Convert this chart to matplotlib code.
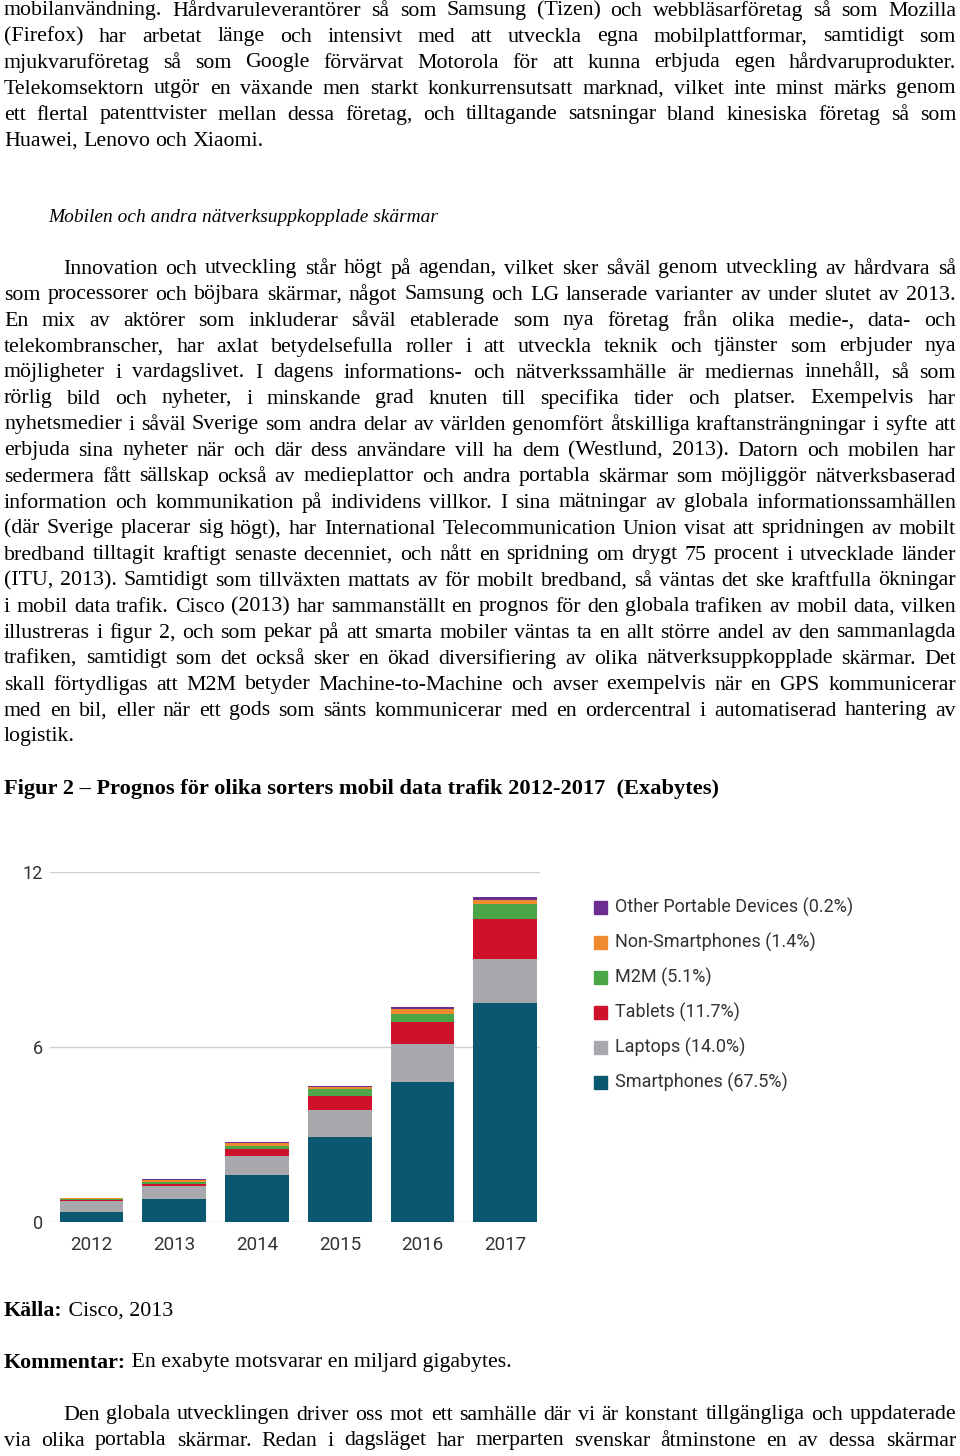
import matplotlib
matplotlib.use("Agg")
import matplotlib.pyplot as plt
import numpy as np
from matplotlib.patches import Rectangle

# ── Chart data (Exabytes) ─────────────────────────────────────────────────────
YEARS = ["2012", "2013", "2014", "2015", "2016", "2017"]
SERIES = ["Smartphones (67.5%)", "Laptops (14.0%)", "Tablets (11.7%)",
          "M2M (5.1%)", "Non-Smartphones (1.4%)", "Other Portable Devices (0.2%)"]
SMARTPHONES = [0.36, 0.80, 1.62, 2.91, 4.79, 7.51]
LAPTOPS = [0.37, 0.42, 0.66, 0.92, 1.30, 1.50]
TABLETS = [0.03, 0.08, 0.22, 0.49, 0.78, 1.37]
M2M = [0.02, 0.07, 0.11, 0.24, 0.26, 0.51]
NON_SMART = [0.04, 0.08, 0.09, 0.06, 0.17, 0.14]
OTHER = [0.02, 0.02, 0.06, 0.03, 0.08, 0.10]
COLORS = ["#0a5770", "#a7a9ac", "#d0112b", "#4ba648", "#f08a2e", "#6b2d8f"]
Y_TICKS = [0, 6, 12]

# ── Page text ──────────────────────────────────────────────────────────────────
PARA1 = [
    "mobilanvändning. Hårdvaruleverantörer så som Samsung (Tizen) och webbläsarföretag så som Mozilla",
    "(Firefox) har arbetat länge och intensivt med att utveckla egna mobilplattformar, samtidigt som",
    "mjukvaruföretag så som Google förvärvat Motorola för att kunna erbjuda egen hårdvaruprodukter.",
    "Telekomsektorn utgör en växande men starkt konkurrensutsatt marknad, vilket inte minst märks genom",
    "ett flertal patenttvister mellan dessa företag, och tilltagande satsningar bland kinesiska företag så som",
    "Huawei, Lenovo och Xiaomi.",
]
HEADING = "Mobilen och andra nätverksuppkopplade skärmar"
PARA2 = [
    "Innovation och utveckling står högt på agendan, vilket sker såväl genom utveckling av hårdvara så",
    "som processorer och böjbara skärmar, något Samsung och LG lanserade varianter av under slutet av 2013.",
    "En mix av aktörer som inkluderar såväl etablerade som nya företag från olika medie-, data- och",
    "telekombranscher, har axlat betydelsefulla roller i att utveckla teknik och tjänster som erbjuder nya",
    "möjligheter i vardagslivet. I dagens informations- och nätverkssamhälle är mediernas innehåll, så som",
    "rörlig bild och nyheter, i minskande grad knuten till specifika tider och platser. Exempelvis har",
    "nyhetsmedier i såväl Sverige som andra delar av världen genomfört åtskilliga kraftansträngningar i syfte att",
    "erbjuda sina nyheter när och där dess användare vill ha dem (Westlund, 2013). Datorn och mobilen har",
    "sedermera fått sällskap också av medieplattor och andra portabla skärmar som möjliggör nätverksbaserad",
    "information och kommunikation på individens villkor. I sina mätningar av globala informationssamhällen",
    "(där Sverige placerar sig högt), har International Telecommunication Union visat att spridningen av mobilt",
    "bredband tilltagit kraftigt senaste decenniet, och nått en spridning om drygt 75 procent i utvecklade länder",
    "(ITU, 2013). Samtidigt som tillväxten mattats av för mobilt bredband, så väntas det ske kraftfulla ökningar",
    "i mobil data trafik. Cisco (2013) har sammanställt en prognos för den globala trafiken av mobil data, vilken",
    "illustreras i figur 2, och som pekar på att smarta mobiler väntas ta en allt större andel av den sammanlagda",
    "trafiken, samtidigt som det också sker en ökad diversifiering av olika nätverksuppkopplade skärmar. Det",
    "skall förtydligas att M2M betyder Machine-to-Machine och avser exempelvis när en GPS kommunicerar",
    "med en bil, eller när ett gods som sänts kommunicerar med en ordercentral i automatiserad hantering av",
    "logistik.",
]
FIG_TITLE = "Figur 2 – Prognos för olika sorters mobil data trafik 2012-2017  (Exabytes)"
SOURCE = ("Källa:", " Cisco, 2013")
COMMENT = ("Kommentar:", " En exabyte motsvarar en miljard gigabytes.")
PARA3 = [
    "Den globala utvecklingen driver oss mot ett samhälle där vi är konstant tillgängliga och uppdaterade",
    "via olika portabla skärmar. Redan i dagsläget har merparten svenskar åtminstone en av dessa skärmar",
]

SERIF = "Liberation Serif"
SANS = "Roboto"
CHART_TXT = "#333333"

# ── Figure + page overlay in pixel units ───────────────────────────────────────
W, H = 960, 1456
fig = plt.figure(figsize=(W / 100, H / 100), dpi=100)
page = fig.add_axes([0, 0, 1, 1])
page.set_xlim(0, W)
page.set_ylim(H, 0)
page.axis("off")
renderer = fig.canvas.get_renderer()


def text_width(s, size, **kw):
    t = page.text(0, 0, s, fontsize=size, family=SERIF, **kw)
    w = t.get_window_extent(renderer).width
    t.remove()
    return w


def put_line(line, x0, x1, y, size, justify=True, **kw):
    words = line.split(" ")
    texts = [page.text(0, y, w, fontsize=size, family=SERIF, va="center",
                       ha="left", color="black", **kw) for w in words]
    widths = [t.get_window_extent(renderer).width for t in texts]
    if justify and len(words) > 1:
        gap = (x1 - x0 - sum(widths)) / (len(words) - 1)
    else:
        gap = text_width("x x", size, **kw) - text_width("xx", size, **kw)
    x = x0
    for t, w in zip(texts, widths):
        t.set_x(x)
        x += w + gap


def put_paragraph(lines, y0, size, indent=0, last_justified=False, step=26):
    for i, line in enumerate(lines):
        x0 = 4 + (indent if i == 0 else 0)
        last = i == len(lines) - 1
        put_line(line, x0, 956, y0 + i * step, size,
                 justify=(not last) or last_justified)


# body size: biggest size that lets the tightest justified line fit
base = 14
ratios = []
for lines, indent in [(PARA1[:-1], 0), (PARA2[:-1], 59), (PARA3, 59)]:
    for i, line in enumerate(lines):
        avail = 952 - (indent if i == 0 else 0)
        ratios.append(text_width(line, base) / avail)
BODY = base / max(ratios) * 0.995

put_paragraph(PARA1, 11, BODY)
page.text(48, 217, HEADING, fontsize=BODY * 388 / text_width(HEADING, BODY, style="italic"),
          family=SERIF, style="italic", va="center", ha="left")
put_paragraph(PARA2, 269, BODY, indent=59)
page.text(4, 789, FIG_TITLE, fontsize=BODY * 714 / text_width(FIG_TITLE, BODY, weight="bold"),
          family=SERIF, weight="bold", va="center", ha="left")

for (bold, rest), y in [(SOURCE, 1311), (COMMENT, 1363)]:
    page.text(4, y, bold, fontsize=BODY, family=SERIF, weight="bold", va="center", ha="left")
    bw = text_width(bold, BODY, weight="bold")
    page.text(4 + bw, y, rest, fontsize=BODY, family=SERIF, va="center", ha="left")

put_paragraph(PARA3, 1415, BODY, indent=59, last_justified=True)

# ── Stacked bar chart ──────────────────────────────────────────────────────────
ax = fig.add_axes([50 / W, (H - 1222) / H, 490 / W, 350 / H])
stack = np.array([SMARTPHONES, LAPTOPS, TABLETS, M2M, NON_SMART, OTHER])
x = np.arange(len(YEARS))
bottom = np.zeros(len(YEARS))
for vals, color in zip(stack, COLORS):
    ax.bar(x, vals, width=0.77, bottom=bottom, color=color, linewidth=0, zorder=3)
    bottom += vals

for yv in Y_TICKS:
    ax.axhline(yv, color="#cfcfcf", linewidth=1.0, zorder=1)

ax.set_xlim(-0.5, 5.42)
ax.set_ylim(0, 12)
ax.set_xticks(x)
ax.set_xticklabels(YEARS, fontsize=13.5, family=SANS, color=CHART_TXT)
ax.set_yticks(Y_TICKS)
ax.set_yticklabels([str(v) for v in Y_TICKS], fontsize=13, family=SANS, color=CHART_TXT)
ax.tick_params(axis="both", length=0)
ax.tick_params(axis="x", pad=10)
ax.tick_params(axis="y", pad=5)
for sp in ax.spines.values():
    sp.set_visible(False)
ax.patch.set_alpha(0)

# legend, top entry = last series
for i, (label, color) in enumerate(zip(SERIES[::-1], COLORS[::-1])):
    yc = 907 + i * 35
    page.add_patch(Rectangle((594, yc - 6.5), 13, 13, color=color))
    page.text(615, yc, label, fontsize=13, family=SANS, color=CHART_TXT,
              va="center", ha="left")

fig.savefig("out.png", dpi=100)
